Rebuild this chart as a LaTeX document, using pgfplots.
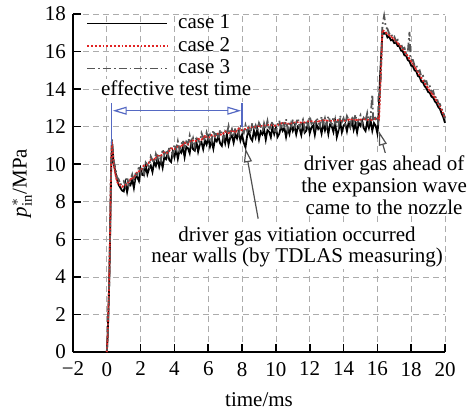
\documentclass[border=0pt]{standalone}
\usepackage{fontspec}
\setmainfont{Liberation Serif}
\usepackage{pgfplots}
\pgfplotsset{compat=1.18}
\usepackage{pgfplotstable}
\usetikzlibrary{arrows.meta}
\definecolor{cgray}{RGB}{85,85,85}
\definecolor{cred}{RGB}{225,35,35}
\definecolor{cblue}{RGB}{85,105,195}
\definecolor{carr}{RGB}{80,80,80}

\pgfplotstableread{
t p
0.00 0.00
0.05 0.80
0.10 2.30
0.15 4.00
0.20 6.50
0.25 9.50
0.30 11.00
0.35 10.60
0.40 10.10
0.50 9.60
0.60 9.20
0.70 8.90
0.80 8.75
0.90 8.60
1.00 8.55
1.10 9.01
1.20 8.52
1.30 8.98
1.40 8.89
1.50 9.20
1.60 8.74
1.70 9.33
1.80 9.32
1.90 9.11
2.00 9.75
2.10 9.43
2.20 9.41
2.30 9.94
2.40 9.47
2.50 9.77
2.60 9.93
2.70 9.59
2.80 10.10
2.90 9.91
3.00 10.32
3.10 9.87
3.20 10.22
3.30 9.82
3.40 10.37
3.50 10.27
3.60 10.57
3.70 10.22
3.80 10.12
3.90 10.67
4.00 10.37
4.10 10.81
4.20 10.29
4.30 10.73
4.40 10.61
4.50 10.90
4.60 10.38
4.70 10.92
4.80 10.85
4.90 10.59
5.00 11.17
5.10 10.80
5.20 10.72
5.30 11.20
5.40 10.67
5.50 11.05
5.60 11.17
5.70 10.80
5.80 11.27
5.90 11.05
6.00 11.42
6.10 10.94
6.20 11.26
6.30 10.83
6.40 11.35
6.50 11.22
6.60 11.49
6.70 11.11
6.80 10.98
6.90 11.50
7.00 11.12
7.10 11.59
7.20 11.05
7.30 11.42
7.40 11.53
7.50 11.15
7.60 11.61
7.70 11.38
7.80 11.74
7.90 11.26
8.00 11.57
8.10 11.14
8.20 10.90
8.30 11.52
8.40 11.78
8.50 11.40
8.60 11.26
8.70 11.78
8.80 11.44
8.90 11.86
9.00 11.32
9.10 11.73
9.20 11.59
9.30 11.85
9.40 11.31
9.50 11.82
9.60 11.73
9.70 11.44
9.80 12.00
9.90 11.61
10.00 11.95
10.10 11.46
10.20 11.62
10.30 12.02
10.40 11.78
10.50 11.94
10.60 11.45
10.70 11.90
10.80 11.61
10.90 12.12
11.00 11.78
11.10 12.03
11.20 11.59
11.30 12.00
11.40 11.91
11.50 11.56
11.60 12.12
11.70 11.68
11.80 11.79
11.90 12.19
12.00 11.65
12.10 11.96
12.20 12.06
12.30 11.57
12.40 12.12
12.50 11.88
12.60 12.03
12.70 11.64
12.80 12.19
12.90 11.80
13.00 12.15
13.10 11.61
13.20 12.11
13.30 12.02
13.40 11.72
13.50 12.28
13.60 11.45
13.70 11.79
13.80 12.24
13.90 11.70
14.00 12.05
14.10 12.16
14.20 11.76
14.30 12.22
14.40 11.97
14.50 12.33
14.60 11.83
14.70 12.14
14.80 11.69
14.90 12.20
15.00 12.05
15.10 12.31
15.20 11.91
15.30 11.77
15.40 12.27
15.50 11.93
15.60 12.33
15.70 11.79
15.80 12.19
15.90 12.05
16.00 11.65
16.05 12.10
16.15 14.50
16.30 17.05
16.40 16.95
16.50 17.00
16.60 16.75
16.70 16.80
16.80 16.60
16.90 16.62
17.00 16.45
17.10 16.48
17.20 16.30
17.30 16.28
17.40 16.05
17.50 16.02
17.60 15.80
17.70 15.78
17.80 15.55
17.90 15.48
18.00 15.25
18.10 15.22
18.20 15.00
18.30 14.95
18.40 14.70
18.50 14.65
18.60 14.40
18.70 14.35
18.80 14.15
18.90 14.05
19.00 13.85
19.10 13.80
19.20 13.60
19.30 13.55
19.40 13.35
19.50 13.25
19.60 13.05
19.70 12.95
19.80 12.70
19.90 12.50
20.00 12.20
}\caseone

\pgfplotstableread{
t p
0.00 0.00
0.05 0.90
0.10 2.50
0.15 4.20
0.20 6.80
0.25 9.80
0.30 11.20
0.35 10.70
0.40 10.10
0.50 9.50
0.60 9.10
0.70 8.90
0.80 8.90
0.90 8.80
1.00 8.85
1.20 8.95
1.40 9.20
1.60 9.30
1.80 9.60
2.00 9.65
2.20 9.95
2.40 9.95
2.60 10.25
2.80 10.25
3.00 10.45
3.20 10.45
3.40 10.65
3.60 10.60
3.80 10.85
4.00 10.80
4.20 10.95
4.40 10.95
4.60 11.15
4.80 11.05
5.00 11.30
5.20 11.20
5.40 11.35
5.60 11.30
5.80 11.50
6.00 11.40
6.20 11.55
6.40 11.50
6.60 11.65
6.80 11.55
7.00 11.75
7.20 11.65
7.40 11.80
7.60 11.70
7.80 11.90
8.00 11.80
8.40 11.95
8.80 12.00
9.20 12.05
9.60 12.10
10.00 12.05
10.40 12.20
10.80 12.15
11.20 12.25
11.60 12.20
12.00 12.30
12.40 12.25
12.80 12.35
13.20 12.30
13.60 12.35
14.00 12.30
14.40 12.40
14.80 12.35
15.20 12.40
15.60 12.35
16.00 12.45
16.10 12.40
16.30 17.15
16.50 17.00
16.80 16.80
17.00 16.65
17.40 16.25
17.80 15.75
18.20 15.20
18.60 14.60
19.00 14.05
19.40 13.55
19.80 12.90
20.00 12.45
}\casetwo

\pgfplotstableread{
t p
0.00 0.00
0.05 0.70
0.10 2.20
0.15 4.10
0.20 6.60
0.25 9.70
0.30 11.35
0.35 10.90
0.40 10.20
0.50 9.80
0.60 9.30
0.70 9.20
0.80 8.90
0.90 9.00
1.00 9.10
1.10 8.86
1.20 9.32
1.30 8.88
1.40 9.19
1.50 9.45
1.60 9.04
1.70 9.48
1.80 9.42
1.90 9.91
2.00 9.50
2.10 9.88
2.20 9.51
2.30 10.09
2.40 9.97
2.50 9.85
2.60 10.41
2.70 10.22
2.80 10.08
2.90 10.54
3.00 10.25
3.10 10.50
3.20 10.20
3.30 10.80
3.40 10.50
3.50 10.75
3.60 10.45
3.70 10.95
3.80 10.80
3.90 10.50
4.00 11.05
4.10 10.79
4.20 11.22
4.30 10.76
4.40 11.04
4.50 11.28
4.60 10.81
4.70 11.20
4.80 11.08
4.90 11.52
5.00 11.05
5.10 11.38
5.20 10.95
5.30 11.48
5.40 11.30
5.50 11.13
5.60 11.65
5.70 11.43
5.80 11.25
5.90 11.68
6.00 11.35
6.10 11.57
6.20 11.24
6.30 11.81
6.40 11.48
6.50 11.70
6.60 11.37
6.70 11.84
6.80 11.66
6.90 11.33
7.00 11.75
7.10 11.62
7.20 12.03
7.30 11.55
7.40 11.86
7.50 11.43
7.60 11.94
7.70 11.76
7.80 11.57
7.90 12.09
8.00 11.85
8.10 11.67
8.20 12.08
8.30 11.75
8.40 11.96
8.50 11.63
8.60 12.19
8.70 11.86
8.80 12.07
8.90 11.74
9.00 12.20
9.10 12.01
9.20 11.67
9.30 12.18
9.40 11.89
9.50 12.30
9.60 11.81
9.70 12.07
9.80 12.28
9.90 11.79
10.00 11.75
10.10 12.11
10.20 12.32
10.30 11.87
10.40 12.23
10.50 12.04
10.60 12.40
10.70 11.85
10.80 12.21
10.90 12.02
11.00 12.38
11.10 11.98
11.20 12.19
11.30 12.45
11.40 11.96
11.50 12.16
11.60 12.37
11.70 11.88
11.80 12.34
11.90 12.04
12.00 12.55
12.10 12.16
12.20 12.31
12.30 11.97
12.40 12.47
12.50 12.28
12.60 12.03
12.70 12.54
12.80 12.14
12.90 12.45
13.00 12.05
13.10 12.56
13.20 12.31
13.30 12.12
13.40 12.52
13.50 12.18
13.60 12.38
13.70 12.04
13.80 12.59
13.90 12.25
14.00 12.45
14.10 12.11
14.20 12.56
14.30 12.37
14.40 12.02
14.50 12.53
14.60 12.23
14.70 12.64
14.80 12.14
14.90 12.40
15.00 12.60
15.10 12.11
15.20 12.46
15.30 12.32
15.40 12.72
15.50 12.23
15.60 12.53
15.70 13.70
15.75 12.30
15.80 12.59
15.90 12.40
16.00 12.45
16.05 12.30
16.20 14.60
16.30 17.40
16.40 17.90
16.50 17.30
16.60 17.20
16.70 16.95
16.80 17.00
16.90 16.75
17.00 16.80
17.10 16.55
17.20 16.62
17.30 16.35
17.40 16.40
17.50 16.15
17.60 16.20
17.70 15.90
17.80 15.95
17.90 17.05
17.95 15.75
18.00 15.55
18.10 15.55
18.20 15.25
18.30 15.30
18.40 14.95
18.50 15.00
18.60 14.65
18.70 14.70
18.80 14.40
18.90 14.42
19.00 14.10
19.10 14.15
19.20 13.85
19.30 13.90
19.40 13.55
19.50 13.60
19.60 13.25
19.70 13.20
19.80 12.95
19.90 12.75
20.00 12.45
}\casethree

\begin{document}
\begin{tikzpicture}
\useasboundingbox (-36.5pt,-31pt) rectangle (200.5pt,176pt);
\begin{axis}[
  at={(0,0)}, anchor=south west,
  scale only axis, width=186pt, height=169pt,
  xmin=-2, xmax=20, ymin=0, ymax=18,
  clip=false,
  axis lines=left,
  axis line style={-, line width=1pt, black},
  xtick={-2,0,...,20},
  xticklabels={−2,0,2,4,6,8,10,12,14,16,18,20},
  ytick={0,2,...,18},
  tick align=inside, major tick length=4pt,
  tick style={black, line width=0.8pt},
  grid=major, grid style={densely dashed, gray!65, line width=0.4pt},
  /pgf/number format/assume math mode=true,
  ticklabel style={font=\fontsize{10.5}{12}\selectfont},
  xticklabel style={yshift=-1.5pt},
  xlabel={time/ms},
  ylabel={\textit{p}$^{*}_{\mathrm{in}}$/MPa},
  label style={font=\fontsize{10.5}{12}\selectfont},
  xlabel style={at={(axis description cs:0.5,-0.142)}, anchor=center},
  ylabel style={at={(axis description cs:-0.137,0.5)}, anchor=center},
  every axis plot post/.append style={legend image code/.code={\draw[##1] (0pt,0pt) -- (40pt,0pt);}},
  legend style={draw=none, fill=none, at={(axis description cs:0.035,1.01)}, anchor=north west,
    font=\fontsize{10.5}{12}\selectfont, row sep=-1.2pt, inner sep=0pt,
    /tikz/every odd column/.append style={column sep=3pt}},
  legend cell align=left,
]
\addplot[black, line width=0.9pt] table[x=t,y=p] {\caseone};
\addlegendentry{case 1}
\addplot[cred, line width=0.9pt, densely dotted] table[x=t,y=p] {\casetwo};
\addlegendentry{case 2}
\addplot[cgray, line width=0.9pt, dash pattern=on 4pt off 1.5pt on 0.8pt off 1.5pt] table[x=t,y=p] {\casethree};
\addlegendentry{case 3}
\addplot[cred, line width=0.7pt, densely dotted, forget plot] table[x=t,y=p] {\casetwo};

\draw[cblue, line width=0.6pt] (axis cs:0.3,13.25) -- (axis cs:0.3,11.0);
\draw[cblue, line width=0.6pt] (axis cs:8.0,13.25) -- (axis cs:8.0,12.0);
\draw[cblue, line width=0.6pt, {Triangle[open,length=7pt,width=4pt]}-{Triangle[open,length=7pt,width=4pt]}] (axis cs:0.35,12.85) -- (axis cs:7.95,12.85);
\node[fill=white, inner sep=1pt, font=\fontsize{10.5}{12}\selectfont] at (axis cs:4.1,14.05) {effective test time};

\draw[carr, line width=0.6pt, -{Triangle[open,length=7pt,width=4pt]}] (axis cs:8.95,7.1) -- (axis cs:8.2,10.85);
\draw[carr, line width=0.6pt, -{Triangle[open,length=7pt,width=4pt]}] (axis cs:16.5,10.5) -- (axis cs:16.1,11.75);

\node[fill=white, inner sep=1pt, align=center, font=\fontsize{10.5}{11}\selectfont] at (axis cs:16.4,8.9) {driver gas ahead of\\the expansion wave\\came to the nozzle};
\node[fill=white, inner sep=1pt, align=center, font=\fontsize{10.5}{10.5}\selectfont] at (axis cs:11.25,5.6) {driver gas vitiation occurred\\near walls (by TDLAS measuring)};
\end{axis}
\end{tikzpicture}
\end{document}
